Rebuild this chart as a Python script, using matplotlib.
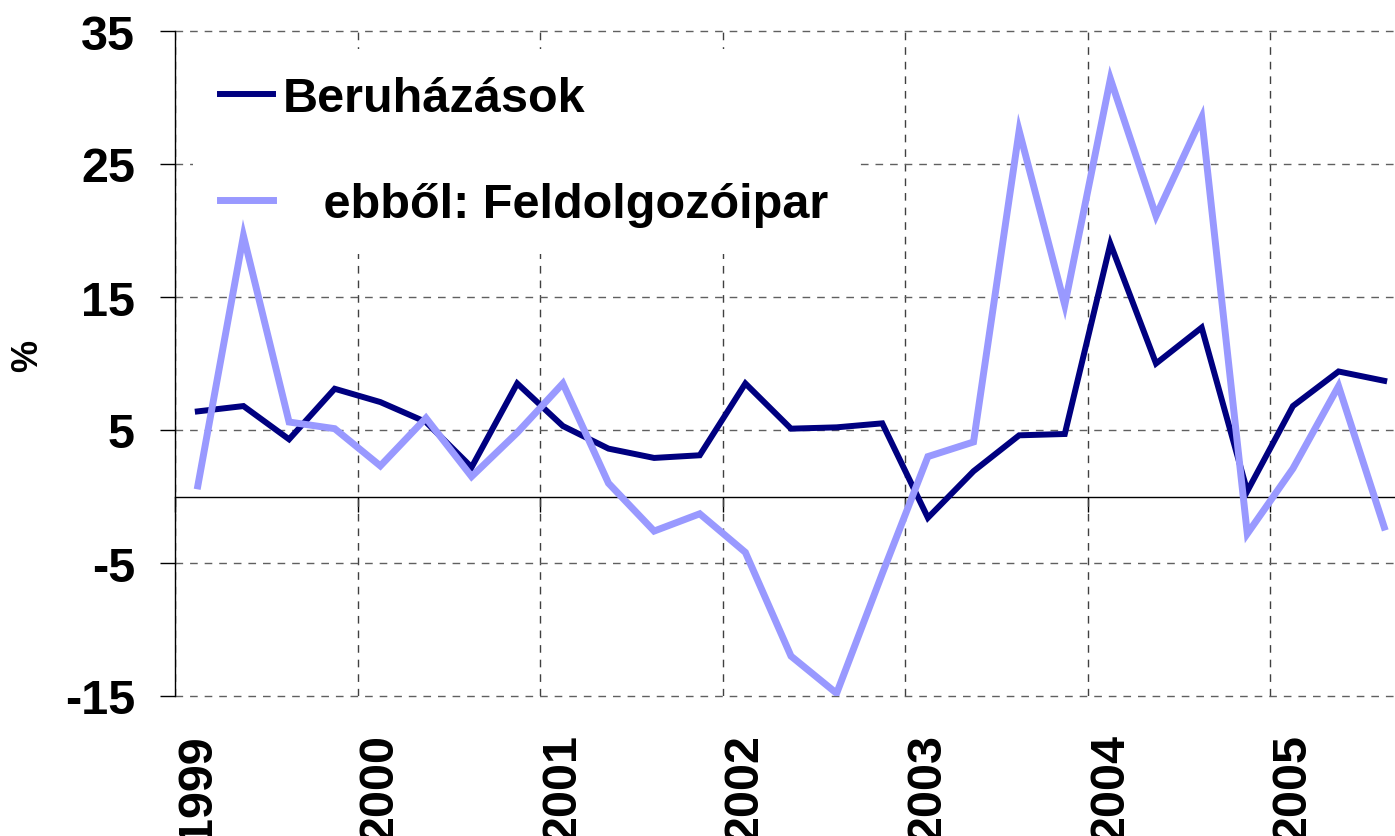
import matplotlib
matplotlib.use("Agg")
import matplotlib.pyplot as plt
import numpy as np

plt.rcParams['font.family'] = ['Liberation Sans', 'DejaVu Sans']
plt.rcParams['font.weight'] = 'bold'

# Quarterly data 1999Q1 - 2005Q3
years = ['1999', '2000', '2001', '2002', '2003', '2004', '2005']
beruhazasok = [6.4, 6.8, 4.3, 8.1, 7.1, 5.6, 2.2, 8.5,
               5.3, 3.6, 2.9, 3.1, 8.5, 5.1, 5.2, 5.5,
               -1.6, 1.9, 4.6, 4.7, 19.0, 10.0, 12.7, 0.4,
               6.8, 9.4, 8.7]
feldolgozoipar = [0.8, 19.6, 5.6, 5.1, 2.3, 5.9, 1.5, 4.8,
                  8.5, 1.0, -2.6, -1.3, -4.2, -12.0, -14.8, -5.8,
                  3.0, 4.1, 27.5, 14.4, 31.4, 21.1, 28.5, -2.8,
                  2.1, 8.3, -2.3]
labels = ['Beruházások', '   ebből: Feldolgozóipar']
yticks = [-15, -5, 5, 15, 25, 35]

W, H = 1395, 837
fig = plt.figure(figsize=(W / 100, H / 100), dpi=100)
ax = fig.add_axes([175 / W, 140 / H, 1232 / W, 665 / H])

x = np.arange(len(beruhazasok))
ax.plot(x, beruhazasok, color='#000080', lw=4.3, zorder=6,
        solid_joinstyle='miter', label=labels[0])
ax.plot(x, feldolgozoipar, color='#9999FF', lw=5.0, zorder=7,
        solid_joinstyle='miter', label=labels[1])

ax.set_xlim(-0.5, len(x) - 0.5)
ax.set_ylim(-15, 35)

# y axis
ax.set_yticks(yticks)
ax.set_yticklabels([str(v) for v in yticks], fontsize=35, fontweight='bold')
ax.tick_params(axis='y', length=10.8, width=1.0, pad=18, direction='out')
ax.yaxis.grid(True, linestyle=(0, (5.5, 5)), color='#606060', lw=1.0)

# x axis: labels at the first quarter of each year, gridlines at year boundaries
year_pos = np.arange(0, len(x), 4)
ax.set_xticks(year_pos)
ax.set_xticklabels(years, rotation=90, fontsize=35, fontweight='bold')
ax.tick_params(axis='x', length=0, pad=27)
bounds = np.arange(-0.5, len(x), 4)
ax.set_xticks(bounds, minor=True)
ax.tick_params(axis='x', which='minor', length=0)
ax.xaxis.grid(True, which='minor', linestyle=(0, (5.5, 5)), color='#404040', lw=1.0)

for s in ['top', 'right', 'bottom']:
    ax.spines[s].set_visible(False)
ax.spines['left'].set_linewidth(1.0)

# zero axis line with year-boundary tick marks
zero_frac = (0 - (-15)) / (35 - (-15))
sec = ax.secondary_xaxis(zero_frac)
sec.set_xticks(bounds)
sec.tick_params(axis='x', length=10.8, width=1.0, direction='out', labelbottom=False)
sec.spines['bottom'].set_linewidth(1.0)

leg = ax.legend(loc='upper left', bbox_to_anchor=(193 / W, 1 - 50 / H),
                bbox_transform=fig.transFigure, borderaxespad=0,
                frameon=True, fancybox=False, framealpha=1, facecolor='white',
                edgecolor='none', prop={'size': 35, 'weight': 'bold'},
                handlelength=1.1, handletextpad=0.2, borderpad=0.55,
                labelspacing=1.26)
leg.set_zorder(5)

fig.text(28 / W, 1 - 356 / H, '%', rotation=90, ha='center', va='center',
         fontsize=26, fontweight='bold')

fig.canvas.draw()
for gl in ax.yaxis.get_gridlines():
    gl.set_clip_on(False)

fig.savefig('out.png', dpi=100)
